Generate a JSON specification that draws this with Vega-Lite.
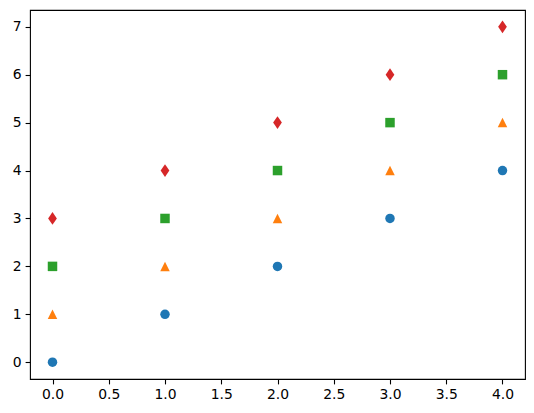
{
  "$schema": "https://vega.github.io/schema/vega-lite/v6.json",
  "width": 495,
  "height": 369,
  "autosize": {"type": "none"},
  "padding": {"left": 30, "top": 10, "right": 9, "bottom": 34},
  "background": "white",
  "config": {
    "view": {"stroke": "black", "strokeWidth": 1.1},
    "axis": {
      "domainColor": "black", "domainWidth": 1.1,
      "tickColor": "black", "tickWidth": 1.1, "tickSize": 4.9,
      "labelColor": "black", "labelFont": "DejaVu Sans", "labelFontSize": 13.9,
      "labelPadding": 4, "grid": false, "title": null
    }
  },
  "data": {
    "values": [
      {"x": 0, "y": 0, "s": "a"}, {"x": 1, "y": 1, "s": "a"}, {"x": 2, "y": 2, "s": "a"}, {"x": 3, "y": 3, "s": "a"}, {"x": 4, "y": 4, "s": "a"},
      {"x": 0, "y": 1, "s": "b"}, {"x": 1, "y": 2, "s": "b"}, {"x": 2, "y": 3, "s": "b"}, {"x": 3, "y": 4, "s": "b"}, {"x": 4, "y": 5, "s": "b"},
      {"x": 0, "y": 2, "s": "c"}, {"x": 1, "y": 3, "s": "c"}, {"x": 2, "y": 4, "s": "c"}, {"x": 3, "y": 5, "s": "c"}, {"x": 4, "y": 6, "s": "c"},
      {"x": 0, "y": 3, "s": "d"}, {"x": 1, "y": 4, "s": "d"}, {"x": 2, "y": 5, "s": "d"}, {"x": 3, "y": 6, "s": "d"}, {"x": 4, "y": 7, "s": "d"}
    ]
  },
  "mark": {"type": "point", "filled": true, "opacity": 1, "size": 90},
  "encoding": {
    "x": {
      "field": "x", "type": "quantitative",
      "scale": {"domain": [-0.2, 4.2], "nice": false, "zero": false},
      "axis": {"values": [0, 0.5, 1, 1.5, 2, 2.5, 3, 3.5, 4], "format": ".1f", "domain": false}
    },
    "y": {
      "field": "y", "type": "quantitative",
      "scale": {"domain": [-0.35, 7.35], "nice": false, "zero": false},
      "axis": {"values": [0, 1, 2, 3, 4, 5, 6, 7], "format": "d", "domain": false}
    },
    "color": {
      "field": "s", "type": "nominal", "legend": null,
      "scale": {"domain": ["a", "b", "c", "d"], "range": ["#1f77b4", "#ff7f0e", "#2ca02c", "#d62728"]}
    },
    "shape": {
      "field": "s", "type": "nominal", "legend": null,
      "scale": {"domain": ["a", "b", "c", "d"], "range": ["circle", "M0,-1L-1,1L1,1Z", "square", "M0,-1.34L0.92,0L0,1.34L-0.92,0Z"]}
    }
  }
}
